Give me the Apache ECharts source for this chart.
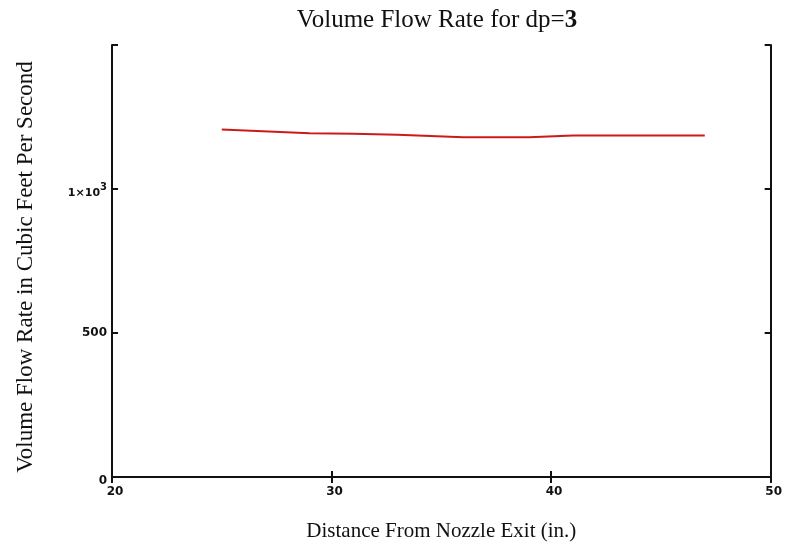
<!DOCTYPE html>
<html>
<head>
<meta charset="utf-8">
<script src="https://cdn.jsdelivr.net/npm/echarts@6/dist/echarts.min.js"></script>
<style>
  html, body { margin: 0; padding: 0; background: #fff; }
  #chart { width: 785px; height: 552px; }
</style>
</head>
<body>
<div id="chart"></div>
<script>
// distance from nozzle exit (in.) and volume flow rate (ft^3/s)
const distance = [25, 29, 31, 33, 36, 39, 41, 47];
const flowRate = [1207, 1194, 1192, 1188, 1180, 1180, 1186, 1186];

const xTicks = [20, 30, 40, 50];
const yTicks = [0, 500, 1000, 1500];

const tickFont = { fontFamily: 'DejaVu Sans', fontWeight: 'bold', fontSize: 12, color: '#111' };
const serif = 'Liberation Serif';

const myChart = echarts.init(document.getElementById('chart'));

const boxAxis = {
    axisLine: { show: true, lineStyle: { color: '#111', width: 2 } },
    axisTick: { show: true, inside: true, length: 6, lineStyle: { color: '#111', width: 2 } },
    splitLine: { show: false }
};

myChart.setOption({
    animation: false,
    backgroundColor: '#fff',
    title: {
        text: 'Volume Flow Rate for dp={b|3}',
        left: 432,
        textAlign: 'center',
        top: 3,
        textStyle: {
            fontFamily: serif, fontSize: 25, fontWeight: 'normal', color: '#111',
            rich: { b: { fontFamily: serif, fontSize: 25, fontWeight: 'bold', color: '#111' } }
        }
    },
    grid: { left: 112, right: 13, top: 45, bottom: 75 },
    xAxis: [
        Object.assign({}, boxAxis, {
            type: 'value', min: xTicks[0], max: xTicks[xTicks.length - 1], interval: 10,
            name: 'Distance From Nozzle Exit (in.)',
            nameLocation: 'middle', nameGap: 44,
            nameTextStyle: { fontFamily: serif, fontSize: 21, color: '#111' },
            axisLabel: Object.assign({ margin: 9, padding: [0, 0, 0, 6] }, tickFont)
        }),
        Object.assign({}, boxAxis, {
            type: 'value', position: 'top', min: 20, max: 50, interval: 10,
            axisLabel: { show: false }
        })
    ],
    yAxis: [
        Object.assign({}, boxAxis, {
            type: 'value', min: yTicks[0], max: yTicks[yTicks.length - 1], interval: 500,
            name: 'Volume Flow Rate in Cubic Feet Per Second',
            nameLocation: 'middle', nameGap: 75,
            nameTextStyle: { fontFamily: serif, fontSize: 23, color: '#111', padding: [0, 12, 0, 0] },
            axisLabel: Object.assign({
                margin: 5,
                formatter: function (v) {
                    if (v === 1000) return '{m|1×10}{s|3}';
                    if (v === 1500) return '';
                    if (v === 0) return '{z|0}';
                    return String(v);
                },
                rich: {
                    m: { fontFamily: 'DejaVu Sans', fontWeight: 'bold', fontSize: 11, color: '#111', padding: [8, 0, 0, 0] },
                    s: { fontFamily: 'DejaVu Sans', fontSize: 10, color: '#111', padding: [0, 0, 4, 0] },
                    z: { fontFamily: 'DejaVu Sans', fontWeight: 'bold', fontSize: 12, color: '#111', padding: [8, 0, 0, 0] }
                }
            }, tickFont)
        }),
        Object.assign({}, boxAxis, {
            type: 'value', position: 'right', min: 0, max: 1500, interval: 500,
            axisLabel: { show: false }
        })
    ],
    series: [{
        type: 'line',
        data: distance.map((d, i) => [d, flowRate[i]]),
        showSymbol: false,
        lineStyle: { color: '#cc1a1a', width: 2 },
        itemStyle: { color: '#cc1a1a' }
    }]
});
</script>
</body>
</html>
